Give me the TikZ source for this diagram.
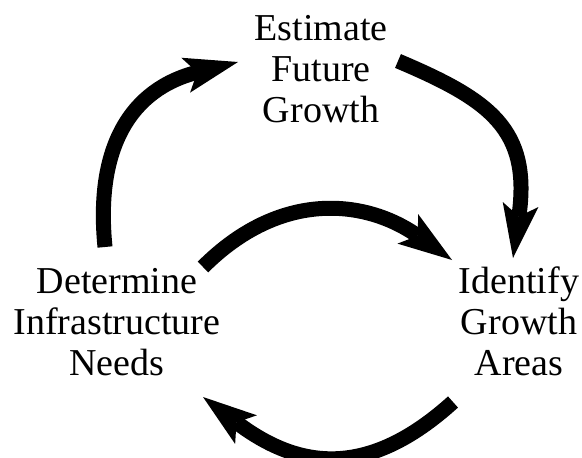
\documentclass[tikz,border=0pt]{standalone}
\usepackage{fontspec}
\setmainfont{Liberation Serif}
\usetikzlibrary{arrows.meta}
\begin{document}
\begin{tikzpicture}[x=1pt,y=-1pt,
  label/.style={font=\fontsize{38}{41}\selectfont, align=center, inner sep=0pt, anchor=base},
  cyc/.style={line width=15pt, -{Stealth[length=54pt,width=36pt,inset=12pt,line width=0pt]}}]
\useasboundingbox (0,0) rectangle (582,458);
\clip (0,0) rectangle (582,458);
\node[label] (est) at (321,122) {Estimate\\Future\\Growth};
\node[label] (det) at (117,375) {Determine\\Infrastructure\\Needs};
\node[label] (idf) at (519,375) {Identify\\Growth\\Areas};
\coordinate (a1s) at (105,247);
\coordinate (a1e) at (238,62);
\coordinate (a2s) at (398,61);
\coordinate (a2e) at (513,258);
\coordinate (a3s) at (203,267);
\coordinate (a3e) at (452,260);
\coordinate (a4s) at (453,402);
\coordinate (a4e) at (203,397);
\draw[cyc] (a1s) .. controls (95,147) and (131,89) .. (a1e);
\draw[cyc] (a2s) .. controls (490,100) and (531.2,129.3) .. (a2e);
\draw[cyc] (a3s) .. controls (280.8,189.2) and (366.1,199.5) .. (a3e);
\draw[cyc] (a4s) .. controls (367.9,479) and (298.6,469.5) .. (a4e);
\end{tikzpicture}
\end{document}
